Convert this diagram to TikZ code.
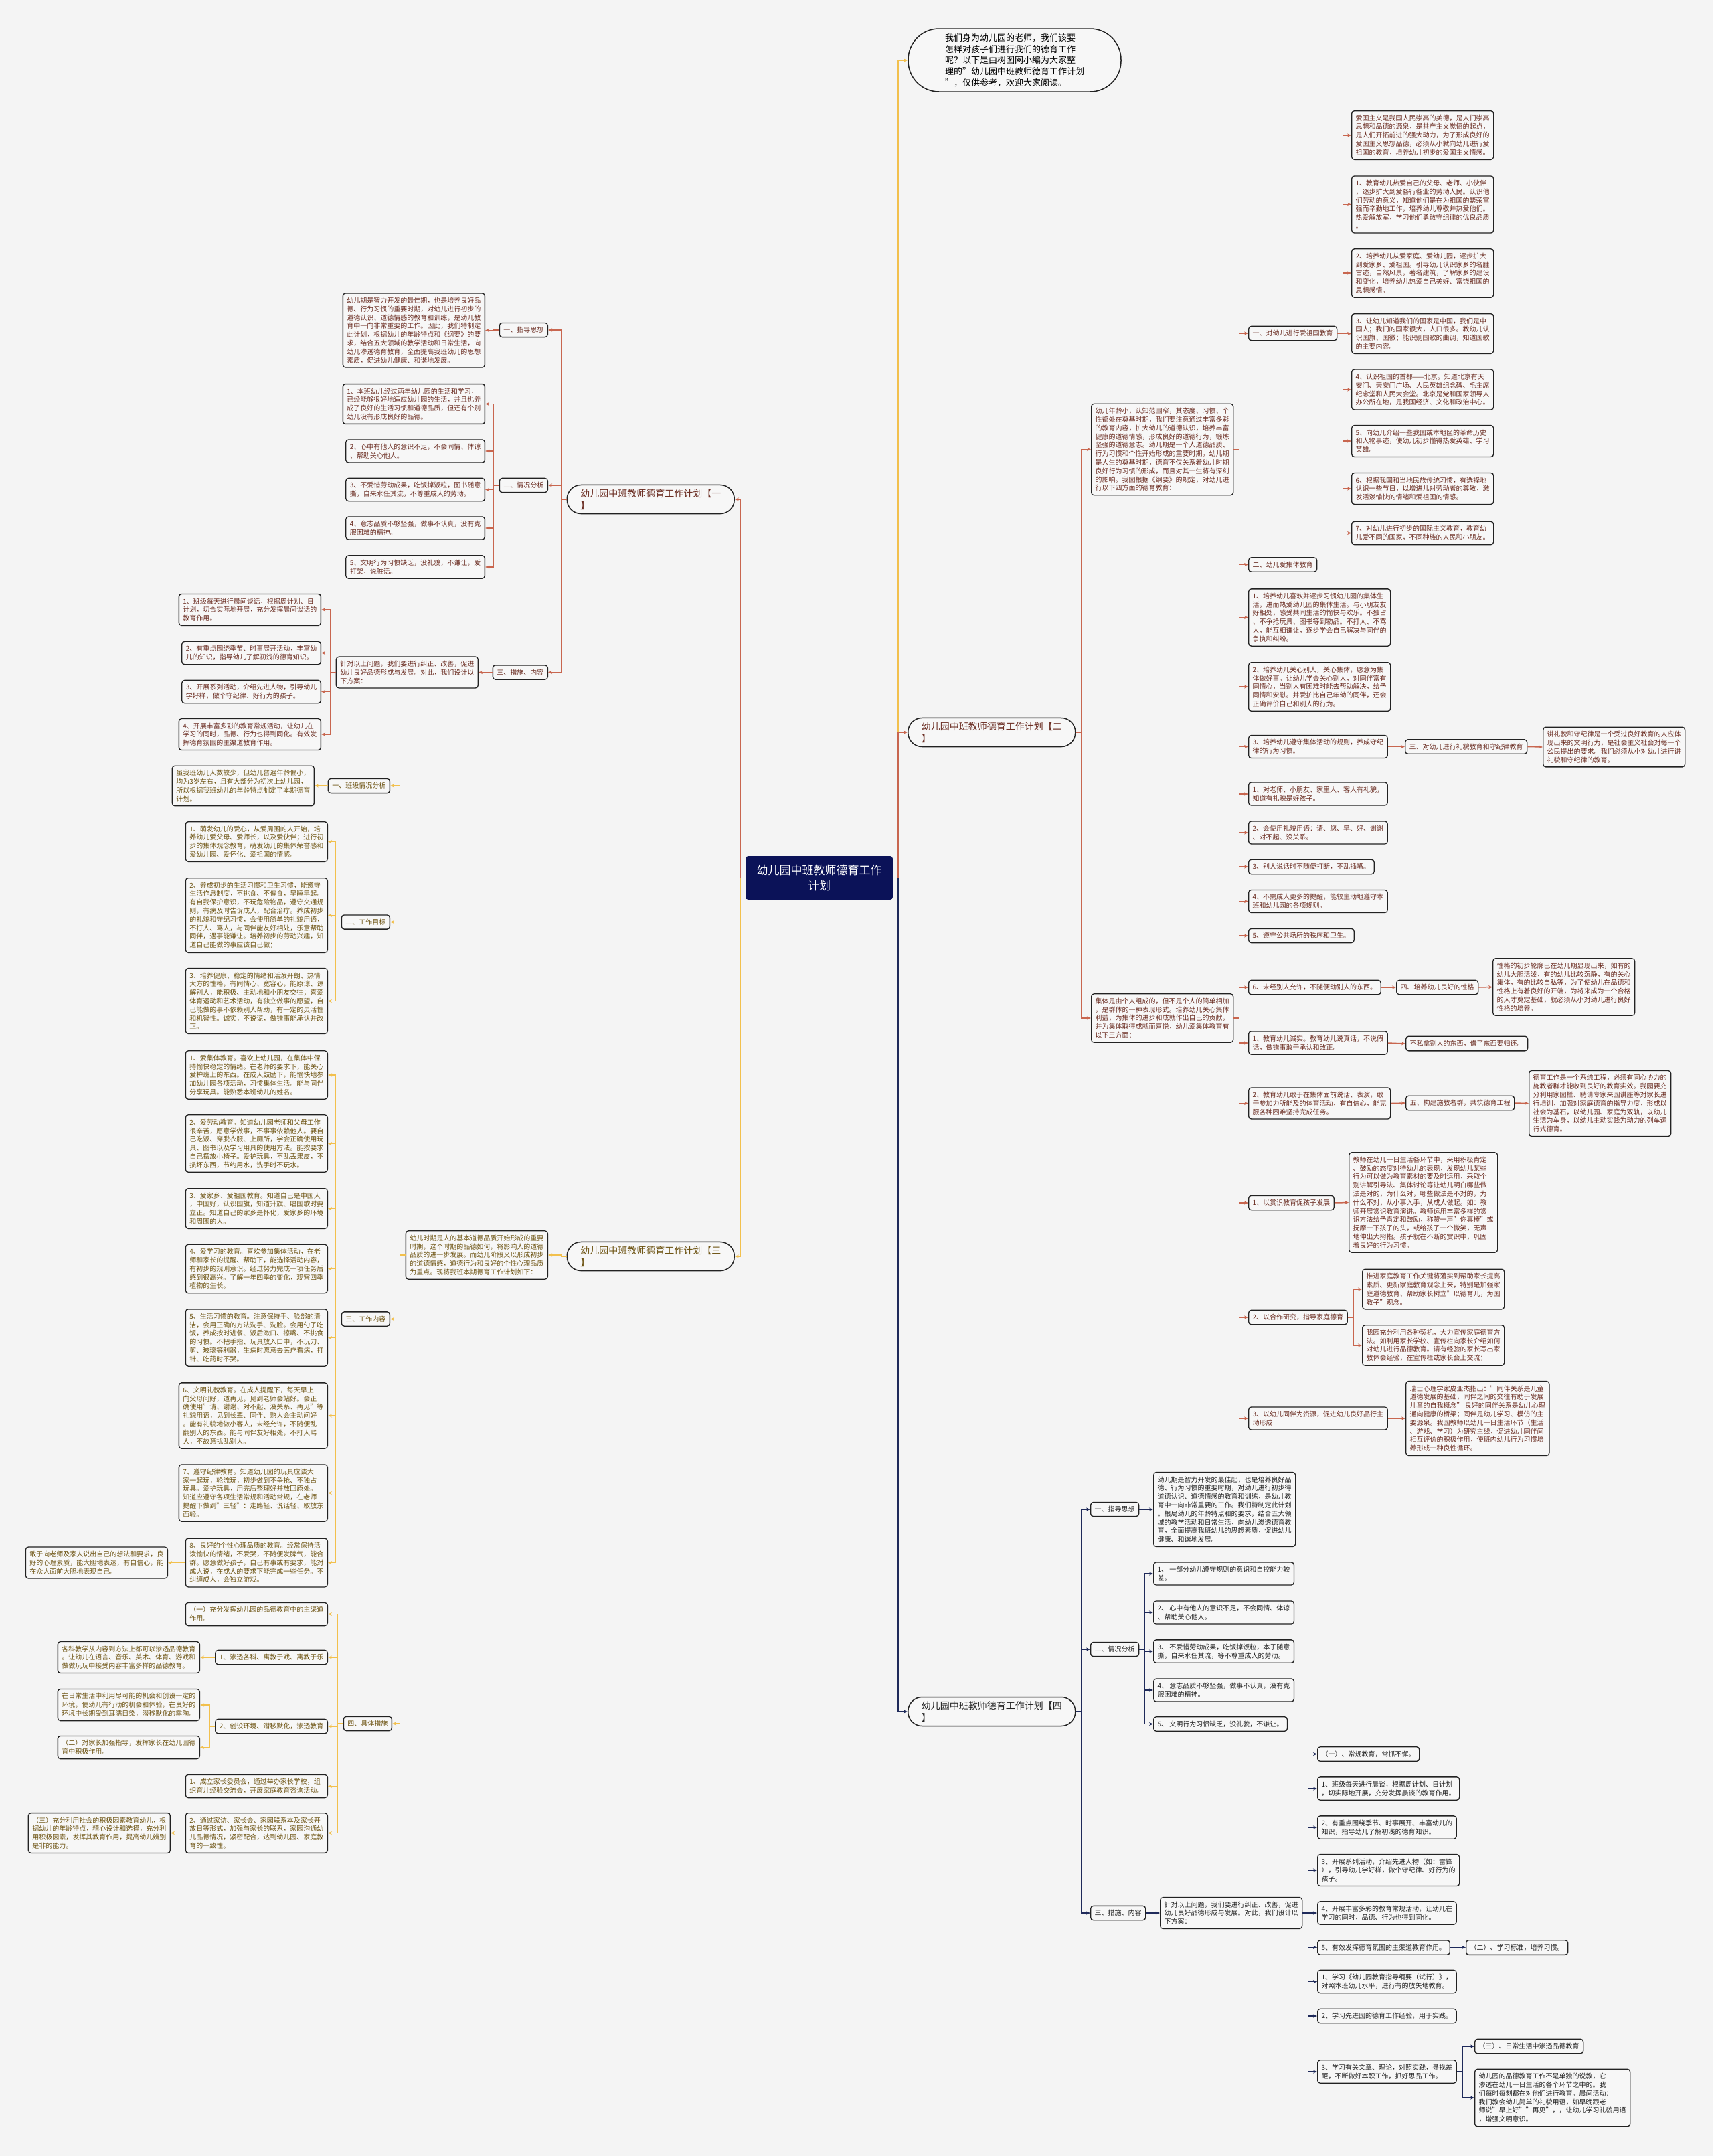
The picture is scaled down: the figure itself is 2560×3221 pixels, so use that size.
\documentclass[tikz,border=0pt]{standalone}
\usepackage{fontspec}
\setmainfont{Noto Sans CJK SC}
\usetikzlibrary{arrows.meta}
\definecolor{bgcol}{HTML}{F4F4F4}
\definecolor{boxfill}{HTML}{F7F7F7}
\definecolor{boxline}{HTML}{222222}
\definecolor{redln}{HTML}{C8664F}
\definecolor{redtxt}{HTML}{6B2D22}
\definecolor{goldln}{HTML}{F2C04D}
\definecolor{goldtxt}{HTML}{6E5413}
\definecolor{navyln}{HTML}{1F2A5A}
\definecolor{navytxt}{HTML}{222222}
\definecolor{rootfill}{HTML}{0B1258}
\tikzset{
  box/.style={draw=boxline, line width=1.3pt, rounded corners=4pt, fill=boxfill,
    align=left, inner xsep=6pt, inner ysep=6pt, font=\fontsize{10}{12.8}\selectfont},
  rbox/.style={box, text=redtxt},
  gbox/.style={box, text=goldtxt},
  nbox/.style={box, text=navytxt},
  plan/.style={draw=boxline, line width=1.5pt, rounded corners=21pt, fill=boxfill,
    align=left, inner xsep=20pt, inner ysep=6pt, font=\fontsize{14}{18}\selectfont},
  link/.style={line width=1.5pt, -{Stealth[length=6pt,width=5pt]}},
  rline/.style={link, draw=redln},
  gline/.style={link, draw=goldln},
  nline/.style={link, draw=navyln},
}
\begin{document}
\begin{tikzpicture}[x=1pt, y=-1pt]
\fill[bgcol] (0,0) rectangle (2560,3221);
\useasboundingbox (0,0) rectangle (2560,3221);

% root and intro
\node[fill=rootfill, rounded corners=4pt, text=white, minimum width=220pt, minimum height=65pt,
  align=center, font=\fontsize{17}{23}\selectfont] (root) at (1224,1311.5) {幼儿园中班教师德育工作\\计划};
\node[draw=boxline, line width=1.5pt, rounded corners=46pt, fill=boxfill, minimum width=318pt,
  minimum height=94pt, align=left, font=\fontsize{13}{16.7}\selectfont] (top) at (1516,90)
  {我们身为幼儿园的老师，我们该要\\怎样对孩子们进行我们的德育工作\\呢？以下是由树图网小编为大家整\\理的"幼儿园中班教师德育工作计划\\"，仅供参考，欢迎大家阅读。};

% plan one
\node[plan, text=redtxt, anchor=east] (n1) at (1098,746) {幼儿园中班教师德育工作计划【一\\】};
\node[rbox, anchor=east] (n1a) at (819,493) {一、指导思想};
\node[rbox, anchor=east] (n1a1) at (725,493.5) {幼儿期是智力开发的最佳期，也是培养良好品\\德、行为习惯的重要时期，对幼儿进行初步的\\道德认识、道德情感的教育和训练，是幼儿教\\育中一向非常重要的工作。因此，我们特制定\\此计划，根据幼儿的年龄特点和《纲要》的要\\求，结合五大领域的教学活动和日常生活，向\\幼儿渗透德育教育，全面提高我班幼儿的思想\\素质，促进幼儿健康、和谐地发展。};
\node[rbox, anchor=east] (n1b) at (819,725) {二、情况分析};
\node[rbox, anchor=east] (n1b1) at (725,603.5) {1、本班幼儿经过两年幼儿园的生活和学习，\\已经能够很好地适应幼儿园的生活，并且也养\\成了良好的生活习惯和道德品质，但还有个别\\幼儿没有形成良好的品德。};
\node[rbox, anchor=east] (n1b2) at (725,674) {2、心中有他人的意识不足，不会同情、体谅\\、帮助关心他人。};
\node[rbox, anchor=east] (n1b3) at (725,731.5) {3、不爱惜劳动成果，吃饭掉饭粒，图书随意\\撕，自来水任其流，不尊重成人的劳动。};
\node[rbox, anchor=east] (n1b4) at (725,789) {4、意志品质不够坚强，做事不认真，没有克\\服困难的精神。};
\node[rbox, anchor=east] (n1b5) at (725,847) {5、文明行为习惯缺乏，没礼貌，不谦让，爱\\打架，说脏话。};
\node[rbox, anchor=east] (n1c) at (819,1004.5) {三、措施、内容};
\node[rbox, anchor=east] (n1c0) at (715,1004.5) {针对以上问题，我们要进行纠正、改善，促进\\幼儿良好品德形成与发展。对此，我们设计以\\下方案：};
\node[rbox, anchor=east] (n1c1) at (480,911) {1、班级每天进行晨间谈话，根据周计划、日\\计划，切合实际地开展，充分发挥晨间谈话的\\教育作用。};
\node[rbox, anchor=east] (n1c2) at (480,975.5) {2、有重点围绕季节、时事展开活动，丰富幼\\儿的知识，指导幼儿了解初浅的德育知识。};
\node[rbox, anchor=east] (n1c3) at (480,1033.5) {3、开展系列活动，介绍先进人物，引导幼儿\\学好样，做个守纪律、好行为的孩子。};
\node[rbox, anchor=east] (n1c4) at (480,1097) {4、开展丰富多彩的教育常规活动，让幼儿在\\学习的同时，品德、行为也得到同化。有效发\\挥德育氛围的主渠道教育作用。};

% plan three
\node[plan, text=goldtxt, anchor=east] (n3) at (1098,1877) {幼儿园中班教师德育工作计划【三\\】};
\node[gbox, anchor=east] (n3i) at (819,1875) {幼儿时期是人的基本道德品质开始形成的重要\\时期，这个时期的品德如何，将影响人的道德\\品质的进一步发展。而幼儿阶段又以形成初步\\的道德情感，道德行为和良好的个性心理品质\\为重点。现将我班本期德育工作计划如下：};
\node[gbox, anchor=east] (n3a) at (583,1174) {一、班级情况分析};
\node[gbox, anchor=east] (n3a1) at (470,1174) {虽我班幼儿人数较少，但幼儿普遍年龄偏小，\\均为3岁左右，且有大部分为初次上幼儿园，\\所以根据我班幼儿的年龄特点制定了本期德育\\计划。};
\node[gbox, anchor=east] (n3b) at (583,1377.5) {二、工作目标};
\node[gbox, anchor=east] (n3b1) at (490,1257.5) {1、萌发幼儿的爱心，从爱周围的人开始，培\\养幼儿爱父母、爱师长，以及爱伙伴；进行初\\步的集体观念教育，萌发幼儿的集体荣誉感和\\爱幼儿园、爱怀化、爱祖国的情感。};
\node[gbox, anchor=east] (n3b2) at (490,1367.5) {2、养成初步的生活习惯和卫生习惯，能遵守\\生活作息制度，不挑食、不偏食，早睡早起。\\有自我保护意识，不玩危险物品，遵守交通规\\则，有病及时告诉成人，配合治疗。养成初步\\的礼貌和守纪习惯，会使用简单的礼貌用语，\\不打人、骂人，与同伴能友好相处，乐意帮助\\同伴，遇事能谦让。培养初步的劳动兴趣，知\\道自己能做的事应该自己做；};
\node[gbox, anchor=east] (n3b3) at (490,1495.5) {3、培养健康、稳定的情绪和活泼开朗、热情\\大方的性格，有同情心、宽容心，能原谅、谅\\解别人，能积极、主动地和小朋友交往；喜爱\\体育运动和艺术活动，有独立做事的愿望，自\\己能做的事不依赖别人帮助，有一定的灵活性\\和机智性。诚实，不说谎，做错事能承认并改\\正。};
\node[gbox, anchor=east] (n3c) at (583,1970.5) {三、工作内容};
\node[gbox, anchor=east] (n3c1) at (490,1606) {1、爱集体教育。喜欢上幼儿园，在集体中保\\持愉快稳定的情绪。在老师的要求下，能关心\\爱护班上的东西。在成人鼓励下，能愉快地参\\加幼儿园各项活动，习惯集体生活。能与同伴\\分享玩具。能熟悉本班幼儿的姓名。};
\node[gbox, anchor=east] (n3c2) at (490,1708.5) {2、爱劳动教育。知道幼儿园老师和父母工作\\很辛苦，愿意学做事，不事事依赖他人。要自\\己吃饭、穿脱衣服、上厕所，学会正确使用玩\\具、图书以及学习用具的使用方法。能按要求\\自己摆放小椅子。爱护玩具，不乱丢果皮，不\\损坏东西，节约用水，洗手时不玩水。};
\node[gbox, anchor=east] (n3c3) at (490,1805.5) {3、爱家乡、爱祖国教育。知道自己是中国人\\，中国好，认识国旗，知道升旗、唱国歌时要\\立正。知道自己的家乡是怀化，爱家乡的环境\\和周围的人。};
\node[gbox, anchor=east] (n3c4) at (490,1895.5) {4、爱学习的教育。喜欢参加集体活动，在老\\师和家长的提醒、帮助下，能选择活动内容，\\有初步的规则意识。经过努力完成一项任务后\\感到很高兴。了解一年四季的变化，观察四季\\植物的生长。};
\node[gbox, anchor=east] (n3c5) at (490,1998.5) {5、生活习惯的教育。注意保持手、脸部的清\\洁，会用正确的方法洗手、洗脸。会用勺子吃\\饭，养成按时进餐、饭后漱口、擦嘴、不挑食\\的习惯。不把手指、玩具放入口中，不玩刀、\\剪、玻璃等利器，生病时愿意去医疗看病，打\\针、吃药时不哭。};
\node[gbox, anchor=east] (n3c6) at (490,2115) {6、文明礼貌教育。在成人提醒下，每天早上\\向父母问好，道再见，见到老师会站好。会正\\确使用"请、谢谢、对不起、没关系、再见"等\\礼貌用语，见到长辈、同伴、熟人会主动问好\\。能有礼貌地做小客人，未经允许，不随便乱\\翻别人的东西。能与同伴友好相处，不打人骂\\人，不故意扰乱别人。};
\node[gbox, anchor=east] (n3c7) at (490,2230.5) {7、遵守纪律教育。知道幼儿园的玩具应该大\\家一起玩，轮流玩，初步做到不争抢、不独占\\玩具。爱护玩具，用完后整理好并放回原处。\\知道应遵守各项生活常规和活动常规，在老师\\提醒下做到"三轻"：走路轻、说话轻、取放东\\西轻。};
\node[gbox, anchor=east] (n3c8) at (490,2334.5) {8、良好的个性心理品质的教育。经常保持活\\泼愉快的情绪，不爱哭，不随便发脾气，能合\\群。愿意做好孩子，自己有事或有要求，能对\\成人说，在成人的要求下能完成一些任务。不\\纠缠成人，会独立游戏。};
\node[gbox, anchor=east] (n3c8x) at (251,2334.5) {敢于向老师及家人说出自己的想法和要求，良\\好的心理素质，能大胆地表达，有自信心，能\\在众人面前大胆地表现自己。};
\node[gbox, anchor=east] (n3d) at (586,2575) {四、具体措施};
\node[gbox, anchor=east] (n3d1) at (490,2411.5) {（一）充分发挥幼儿园的品德教育中的主渠道\\作用。};
\node[gbox, anchor=east] (n3d2) at (490,2476) {1、渗透各科、寓教于戏、寓教于乐};
\node[gbox, anchor=east] (n3d2x) at (299,2476) {各科教学从内容到方法上都可以渗透品德教育\\。让幼儿在语言、音乐、美术、体育、游戏和\\做做玩玩中接受内容丰富多样的品德教育。};
\node[gbox, anchor=east] (n3d3) at (490,2579) {2、创设环境、潜移默化，渗透教育};
\node[gbox, anchor=east] (n3d3x) at (299,2547) {在日常生活中利用尽可能的机会和创设一定的\\环境，使幼儿有行动的机会和体验，在良好的\\环境中长期受到耳濡目染，潜移默化的熏陶。};
\node[gbox, anchor=east] (n3d3y) at (299,2610.5) {（二）对家长加强指导，发挥家长在幼儿园德\\育中积极作用。};
\node[gbox, anchor=east] (n3d4) at (490,2668.5) {1、成立家长委员会，通过举办家长学校，组\\织育儿经验交流会，开展家庭教育咨询活动。};
\node[gbox, anchor=east] (n3d5) at (490,2738.5) {2、通过家访、家长会、家园联系本及家长开\\放日等形式，加强与家长的联系，家园沟通幼\\儿品德情况，紧密配合，达到幼儿园、家庭教\\育的一致性。};
\node[gbox, anchor=east] (n3d5x) at (255,2738.5) {（三）充分利用社会的积极因素教育幼儿，根\\据幼儿的年龄特点，精心设计和选择，充分利\\用积极因素，发挥其教育作用，提高幼儿辨别\\是非的能力。};

% plan two
\node[plan, text=redtxt, anchor=west] (n2) at (1356,1094) {幼儿园中班教师德育工作计划【二\\】};
\node[rbox, anchor=west] (n2i) at (1630,671.5) {幼儿年龄小，认知范围窄，其态度、习惯、个\\性都处在奠基时期，我们要注意通过丰富多彩\\的教育内容，扩大幼儿的道德认识，培养丰富\\健康的道德情感，形成良好的道德行为，锻炼\\坚强的道德意志。幼儿期是一个人道德品质、\\行为习惯和个性开始形成的重要时期。幼儿期\\是人生的奠基时期，德育不仅关系着幼儿时期\\良好行为习惯的形成，而且对其一生将有深刻\\的影响。我园根据《纲要》的规定，对幼儿进\\行以下四方面的德育教育：};
\node[rbox, anchor=west] (n2a) at (1865,498) {一、对幼儿进行爱祖国教育};
\node[rbox, anchor=west] (n2a0) at (2019,202) {爱国主义是我国人民崇高的美德，是人们崇高\\思想和品德的源泉，是共产主义觉悟的起点，\\是人们开拓前进的强大动力，为了形成良好的\\爱国主义思想品德，必须从小就向幼儿进行爱\\祖国的教育，培养幼儿初步的爱国主义情感。};
\node[rbox, anchor=west] (n2a1) at (2019,305.5) {1、教育幼儿热爱自己的父母、老师、小伙伴\\，逐步扩大到爱各行各业的劳动人民。认识他\\们劳动的意义，知道他们是在为祖国的繁荣富\\强而辛勤地工作，培养幼儿尊敬并热爱他们。\\热爱解放军，学习他们勇敢守纪律的优良品质\\。};
\node[rbox, anchor=west] (n2a2) at (2019,408) {2、培养幼儿从爱家庭、爱幼儿园，逐步扩大\\到爱家乡、爱祖国。引导幼儿认识家乡的名胜\\古迹，自然风景，著名建筑，了解家乡的建设\\和变化，培养幼儿热爱自己美好、富饶祖国的\\思想感情。};
\node[rbox, anchor=west] (n2a3) at (2019,498.5) {3、让幼儿知道我们的国家是中国，我们是中\\国人；我们的国家很大，人口很多。教幼儿认\\识国旗、国徽；能识别国歌的曲调，知道国歌\\的主要内容。};
\node[rbox, anchor=west] (n2a4) at (2019,582) {4、认识祖国的首都——北京。知道北京有天\\安门、天安门广场、人民英雄纪念碑、毛主席\\纪念堂和人民大会堂。北京是党和国家领导人\\办公所在地，是我国经济、文化和政治中心。};
\node[rbox, anchor=west] (n2a5) at (2019,659) {5、向幼儿介绍一些我国或本地区的革命历史\\和人物事迹，使幼儿初步懂得热爱英雄、学习\\英雄。};
\node[rbox, anchor=west] (n2a6) at (2019,730) {6、根据我国和当地民族传统习惯，有选择地\\认识一些节日，以增进儿对劳动者的尊敬，激\\发活泼愉快的情绪和爱祖国的情感。};
\node[rbox, anchor=west] (n2a7) at (2019,796.5) {7、对幼儿进行初步的国际主义教育，教育幼\\儿爱不同的国家，不同种族的人民和小朋友。};
\node[rbox, anchor=west] (n2b) at (1865,843.5) {二、幼儿爱集体教育};
\node[rbox, anchor=west] (n2j) at (1630,1521) {集体是由个人组成的，但不是个人的简单相加\\，是群体的一种表现形式。培养幼儿关心集体\\利益，为集体的进步和成就作出自己的贡献，\\并为集体取得成就而喜悦，幼儿爱集体教育有\\以下三方面：};
\node[rbox, anchor=west] (n2j1) at (1865,922.5) {1、培养幼儿喜欢并逐步习惯幼儿园的集体生\\活，进而热爱幼儿园的集体生活。与小朋友友\\好相处，感受共同生活的愉快与欢乐。不独占\\、不争抢玩具、图书等到物品。不打人、不骂\\人，能互相谦让，逐步学会自己解决与同伴的\\争执和纠纷。};
\node[rbox, anchor=west] (n2j2) at (1865,1026) {2、培养幼儿关心别人，关心集体，愿意为集\\体做好事。让幼儿学会关心别人，对同伴富有\\同情心，当别人有困难时能去帮助解决，给予\\同情和安慰。并爱护比自己年幼的同伴，还会\\正确评价自己和别人的行为。};
\node[rbox, anchor=west] (n2j3) at (1865,1115.5) {3、培养幼儿遵守集体活动的规则，养成守纪\\律的行为习惯。};
\node[rbox, anchor=west] (n2j3x) at (2099,1115.5) {三、对幼儿进行礼貌教育和守纪律教育};
\node[rbox, anchor=west] (n2j3y) at (2305,1116) {讲礼貌和守纪律是一个受过良好教育的人应体\\现出来的文明行为，是社会主义社会对每一个\\公民提出的要求。我们必须从小对幼儿进行讲\\礼貌和守纪律的教育。};
\node[rbox, anchor=west] (n2k1) at (1865,1186) {1、对老师、小朋友、家里人、客人有礼貌，\\知道有礼貌是好孩子。};
\node[rbox, anchor=west] (n2k2) at (1865,1244) {2、会使用礼貌用语：请、您、早、好、谢谢\\、对不起、没关系。};
\node[rbox, anchor=west] (n2k3) at (1865,1295) {3、别人说话时不随便打断，不乱插嘴。};
\node[rbox, anchor=west] (n2k4) at (1865,1346.5) {4、不需成人更多的提醒，能较主动地遵守本\\班和幼儿园的各项规则。};
\node[rbox, anchor=west] (n2k5) at (1865,1398) {5、遵守公共场所的秩序和卫生。};
\node[rbox, anchor=west] (n2k6) at (1865,1475) {6、未经别人允许，不随便动别人的东西。};
\node[rbox, anchor=west] (n2k6x) at (2086,1475) {四、培养幼儿良好的性格};
\node[rbox, anchor=west] (n2k6y) at (2230,1474.5) {性格的初步轮廓已在幼儿期显现出来，如有的\\幼儿大胆活泼，有的幼儿比较沉静，有的关心\\集体，有的比较自私等，为了使幼儿在品德和\\性格上有着良好的开端，为将来成为一个合格\\的人才奠定基础，就必须从小对幼儿进行良好\\性格的培养。};
\node[rbox, anchor=west] (n2m1) at (1865,1558) {1、教育幼儿诚实。教育幼儿说真话，不说假\\话，做错事敢于承认和改正。};
\node[rbox, anchor=west] (n2m1x) at (2100,1559) {不私拿别人的东西，借了东西要归还。};
\node[rbox, anchor=west] (n2m2) at (1865,1648.5) {2、教育幼儿敢于在集体面前说话、表演，敢\\于参加力所能及的体育活动，有自信心，能克\\服各种困难坚持完成任务。};
\node[rbox, anchor=west] (n2m2x) at (2100,1648) {五、构建施教者群，共筑德育工程};
\node[rbox, anchor=west] (n2m2y) at (2284,1648.5) {德育工作是一个系统工程，必须有同心协力的\\施教者群才能收到良好的教育实效。我园要充\\分利用家园栏、聘请专家来园讲座等对家长进\\行培训，加强对家庭德育的指导力度，形成以\\社会为基石，以幼儿园、家庭为双轨，以幼儿\\生活为车身，以幼儿主动实践为动力的列车运\\行式德育。};
\node[rbox, anchor=west] (n2p1) at (1865,1797) {1、以赏识教育促孩子发展};
\node[rbox, anchor=west] (n2p1x) at (2015,1796.5) {教师在幼儿一日生活各环节中，采用积极肯定\\、鼓励的态度对待幼儿的表现，发现幼儿某些\\行为可以做为教育素材的要及时运用，采取个\\别讲解引导法、集体讨论等让幼儿明白哪些做\\法是对的，为什么对，哪些做法是不对的，为\\什么不对，从小事入手，从成人做起。如：教\\师开展赏识教育演讲。教师运用丰富多样的赏\\识方法给予肯定和鼓励，称赞一声"你真棒"或\\抚摩一下孩子的头，或给孩子一个微笑，无声\\地伸出大拇指。孩子就在不断的赏识中，巩固\\着良好的行为习惯。};
\node[rbox, anchor=west] (n2p2) at (1865,1968) {2、以合作研究，指导家庭德育};
\node[rbox, anchor=west] (n2p2x) at (2035,1926) {推进家庭教育工作关键将落实到帮助家长提高\\素质、更新家庭教育观念上来，特别是加强家\\庭道德教育、帮助家长树立"以德育儿，为国\\教子"观念。};
\node[rbox, anchor=west] (n2p2y) at (2035,2010) {我园充分利用各种契机，大力宣传家庭德育方\\法。如利用家长学校、宣传栏向家长介绍如何\\对幼儿进行品德教育。请有经验的家长写出家\\教体会经验，在宣传栏或家长会上交流；};
\node[rbox, anchor=west] (n2p3) at (1865,2119) {3、以幼儿同伴为资源，促进幼儿良好品行主\\动形成};
\node[rbox, anchor=west] (n2p3x) at (2100,2119) {瑞士心理学家皮亚杰指出："同伴关系是儿童\\道德发展的基础，同伴之间的交往有助于发展\\儿童的自我概念" 良好的同伴关系是幼儿心理\\通向健康的桥梁；同伴是幼儿学习、模仿的主\\要源泉。我园教师以幼儿一日生活环节（生活\\、游戏、学习）为研究主线，促进幼儿同伴间\\相互评价的积极作用，使班内幼儿行为习惯培\\养形成一种良性循环。};

% plan four
\node[plan, text=navytxt, anchor=west] (n4) at (1356,2557) {幼儿园中班教师德育工作计划【四\\】};
\node[nbox, anchor=west] (n4a) at (1629,2255) {一、指导思想};
\node[nbox, anchor=west] (n4a1) at (1723,2255) {幼儿期是智力开发的最佳起，也是培养良好品\\德、行为习惯的重要时期，对幼儿进行初步得\\道德认识、道德情感的教育和训练，是幼儿教\\育中一向非常重要的工作。我们特制定此计划\\。根局幼儿的年龄特点和的要求，结合五大领\\域的教学活动和日常生活，向幼儿渗透德育教\\育，全面提高我班幼儿的思想素质，促进幼儿\\健康、和谐地发展。};
\node[nbox, anchor=west] (n4b) at (1629,2464) {二、情况分析};
\node[nbox, anchor=west] (n4b1) at (1723,2351) {1、\ 一部分幼儿遵守规则的意识和自控能力较\\差。};
\node[nbox, anchor=west] (n4b2) at (1723,2409) {2、\ 心中有他人的意识不足，不会同情、体谅\\、帮助关心他人。};
\node[nbox, anchor=west] (n4b3) at (1723,2467) {3、\ 不爱惜劳动成果，吃饭掉饭粒，本子随意\\撕，自来水任其流，等不尊重成人的劳动。};
\node[nbox, anchor=west] (n4b4) at (1723,2525) {4、\ 意志品质不够坚强，做事不认真，没有克\\服困难的精神。};
\node[nbox, anchor=west] (n4b5) at (1723,2575.5) {5、\ 文明行为习惯缺乏，没礼貌，不谦让。};
\node[nbox, anchor=west] (n4c) at (1629,2858) {三、措施、内容};
\node[nbox, anchor=west] (n4c0) at (1733,2858) {针对以上问题，我们要进行纠正、改善，促进\\幼儿良好品德形成与发展。对此，我们设计以\\下方案：};
\node[nbox, anchor=west] (n4c1) at (1968,2620.5) {（一）、常规教育，常抓不懈。};
\node[nbox, anchor=west] (n4c2) at (1968,2672) {1、班级每天进行晨谈，根据周计划、日计划\\，切实际地开展，充分发挥晨谈的教育作用。};
\node[nbox, anchor=west] (n4c3) at (1968,2730) {2、有重点围绕季节、时事展开、丰富幼儿的\\知识，指导幼儿了解初浅的德育知识。};
\node[nbox, anchor=west] (n4c4) at (1968,2794) {3、开展系列活动，介绍先进人物（如：雷锋\\），引导幼儿学好样，做个守纪律、好行为的\\孩子。};
\node[nbox, anchor=west] (n4c5) at (1968,2858) {4、开展丰富多彩的教育常规活动，让幼儿在\\学习的同时，品德、行为也得到同化。};
\node[nbox, anchor=west] (n4c6) at (1968,2909.5) {5、有效发挥德育氛围的主渠道教育作用。};
\node[nbox, anchor=west] (n4c6x) at (2190,2909.5) {（二）、学习标准，培养习惯。};
\node[nbox, anchor=west] (n4c7) at (1968,2960.5) {1、学习《幼儿园教育指导纲要（试行）》，\\对照本班幼儿水平，进行有的放矢地教育。};
\node[nbox, anchor=west] (n4c8) at (1968,3012) {2、学习先进园的德育工作经验，用于实践。};
\node[nbox, anchor=west] (n4c9) at (1968,3095) {3、学习有关文章、理论，对照实践，寻找差\\距，不断做好本职工作，抓好思品工作。};
\node[nbox, anchor=west] (n4c9x) at (2203,3057) {（三）、日常生活中渗透品德教育};
\node[nbox, anchor=west] (n4c9y) at (2203,3134) {幼儿园的品德教育工作不是单独的说教，它\\渗透在幼儿一日生活的各个环节之中的。我\\们每时每刻都在对他们进行教育。晨间活动：\\我们教会幼儿简单的礼貌用语，如早晚跟老\\师说"早上好""再见"，，让幼儿学习礼貌用语\\，增强文明意识。};

% connectors from the root
\draw[rline] (root.west) -- ++(-8,0) |- (n1.east);
\draw[gline] (root.west) -- ++(-8,0) |- (n3.east);
\draw[gline] (root.east) -- ++(8,0) |- (top.west);
\draw[rline] (root.east) -- ++(8,0) |- (n2.west);
\draw[nline] (root.east) -- ++(8,0) |- (n4.west);

% plan one
\foreach \c in {n1a,n1b,n1c} \draw[rline] (n1.west) -- ++(-8,0) |- (\c.east);
\draw[rline] (n1a.west) -- ++(-8,0) |- (n1a1.east);
\foreach \i in {1,...,5} \draw[rline] (n1b.west) -- ++(-8,0) |- (n1b\i.east);
\draw[rline] (n1c.west) -- ++(-8,0) |- (n1c0.east);
\foreach \i in {1,...,4} \draw[rline] (n1c0.west) -- ++(-8,0) |- (n1c\i.east);

% plan three
\draw[gline] (n3.west) -- ++(-8,0) |- (n3i.east);
\foreach \c in {n3a,n3b,n3c,n3d} \draw[gline] (n3i.west) -- ++(-8,0) |- (\c.east);
\draw[gline] (n3a.west) -- ++(-8,0) |- (n3a1.east);
\foreach \i in {1,2,3} \draw[gline] (n3b.west) -- ++(-8,0) |- (n3b\i.east);
\foreach \i in {1,...,8} \draw[gline] (n3c.west) -- ++(-8,0) |- (n3c\i.east);
\draw[gline] (n3c8.west) -- ++(-8,0) |- (n3c8x.east);
\foreach \i in {1,...,5} \draw[gline] (n3d.west) -- ++(-8,0) |- (n3d\i.east);
\draw[gline] (n3d2.west) -- ++(-8,0) |- (n3d2x.east);
\draw[gline] (n3d3.west) -- ++(-8,0) |- (n3d3x.east);
\draw[gline] (n3d3.west) -- ++(-8,0) |- (n3d3y.east);
\draw[gline] (n3d5.west) -- ++(-8,0) |- (n3d5x.east);

% plan two
\foreach \c in {n2i,n2j} \draw[rline] (n2.east) -- ++(8,0) |- (\c.west);
\foreach \c in {n2a,n2b} \draw[rline] (n2i.east) -- ++(8,0) |- (\c.west);
\foreach \i in {0,...,7} \draw[rline] (n2a.east) -- ++(8,0) |- (n2a\i.west);
\foreach \c in {n2j1,n2j2,n2j3,n2k1,n2k2,n2k3,n2k4,n2k5,n2k6,n2m1,n2m2,n2p1,n2p2,n2p3}
  \draw[rline] (n2j.east) -- ++(8,0) |- (\c.west);
\draw[rline] (n2j3.east) -- (n2j3x.west);
\draw[rline] (n2j3x.east) -- (n2j3y.west);
\draw[rline] (n2k6.east) -- (n2k6x.west);
\draw[rline] (n2k6x.east) -- (n2k6y.west);
\draw[rline] (n2m1.east) -- (n2m1x.west);
\draw[rline] (n2m2.east) -- (n2m2x.west);
\draw[rline] (n2m2x.east) -- (n2m2y.west);
\draw[rline] (n2p1.east) -- (n2p1x.west);
\foreach \c in {n2p2x,n2p2y} \draw[rline] (n2p2.east) -- ++(8,0) |- (\c.west);
\draw[rline] (n2p3.east) -- (n2p3x.west);

% plan four
\foreach \c in {n4a,n4b,n4c} \draw[nline] (n4.east) -- ++(8,0) |- (\c.west);
\draw[nline] (n4a.east) -- (n4a1.west);
\foreach \i in {1,...,5} \draw[nline] (n4b.east) -- ++(8,0) |- (n4b\i.west);
\draw[nline] (n4c.east) -- (n4c0.west);
\foreach \i in {1,...,9} \draw[nline] (n4c0.east) -- ++(8,0) |- (n4c\i.west);
\draw[nline] (n4c6.east) -- (n4c6x.west);
\foreach \c in {n4c9x,n4c9y} \draw[nline] (n4c9.east) -- ++(8,0) |- (\c.west);
\end{tikzpicture}
\end{document}
